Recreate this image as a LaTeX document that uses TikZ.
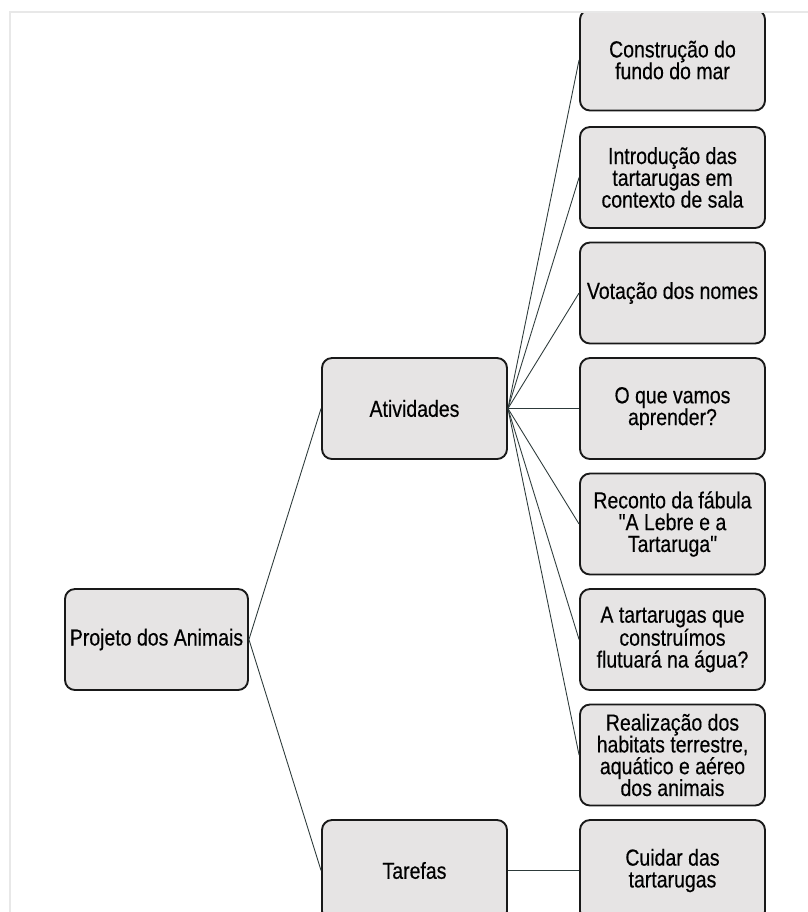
\documentclass[tikz,border=0pt]{standalone}
\usepackage{fontspec}
\setmainfont{Liberation Sans}[FakeStretch=0.84, FakeBold=0.4, Ligatures=TeXOff]
\begin{document}
\begin{tikzpicture}[
    x=0.03cm,
    y=-0.03cm,
    topic box/.style={draw=black!90, fill=mapFill, line width=1.6pt, rounded corners=0.3cm,
      minimum width=5.55cm, minimum height=3.03cm, inner sep=2pt, align=center,
      font=\fontsize{19.8}{18.6}\selectfont},
    branch/.style={draw=mapLine, line width=0.75pt},
    page frame/.style={draw=black!9, line width=1.4pt}
]

\definecolor{mapFill}{RGB}{230,228,228}
\definecolor{mapLine}{RGB}{45,58,58}

\useasboundingbox (0,0) rectangle (808,912);

% Faint frame of the scanned page.
\draw[page frame] (10,912) -- (10,12) -- (808,12);

\begin{scope}
\clip (11,13) rectangle (808,912);

% Root and the two branches.
\node[topic box, minimum width=5.49cm] (projeto) at (156.5,639.5) {Projeto dos Animais};
\node[topic box] (atividades) at (414.5,408.5) {Atividades};
\node[topic box] (tarefas) at (414.5,870.5) {Tarefas};

% Activities, one box per step of 115.5.
\node[topic box] (fundo) at (672.5,60) {Construção do\\fundo do mar};
\node[topic box] (introducao) at (672.5,177.5) {Introdução das\\tartarugas em\\contexto de sala};
\node[topic box] (votacao) at (672.5,293) {Votação dos nomes};
\node[topic box] (aprender) at (672.5,408.5) {O que vamos\\aprender?};
\node[topic box] (reconto) at (672.5,524) {Reconto da fábula\\"A Lebre e a\\Tartaruga"};
\node[topic box] (flutuar) at (672.5,639.5) {A tartarugas que\\construímos\\flutuará na água?};
\node[topic box] (habitats) at (672.5,755) {Realização dos\\habitats terrestre,\\aquático e aéreo\\dos animais};

% Task.
\node[topic box] (cuidar) at (672.5,870.5) {Cuidar das\\tartarugas};

% Connectors.
\draw[branch] (projeto.east) -- (atividades.west);
\draw[branch] (projeto.east) -- (tarefas.west);
\foreach \leaf in {fundo,introducao,votacao,aprender,reconto,flutuar,habitats}
  \draw[branch] (atividades.east) -- (\leaf.west);
\draw[branch] (tarefas.east) -- (cuidar.west);
\end{scope}

\end{tikzpicture}
\end{document}
